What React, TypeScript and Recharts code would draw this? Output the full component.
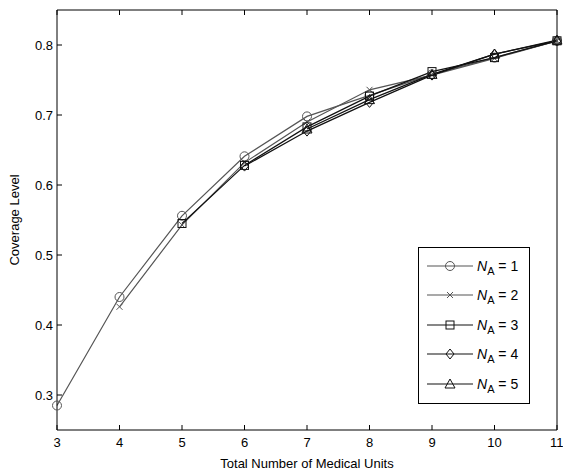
import React from 'react';
import {
  LineChart,
  Line,
  XAxis,
  YAxis
} from 'recharts';

const units = [3, 4, 5, 6, 7, 8, 9, 10, 11];
const yTicks = [0.3, 0.4, 0.5, 0.6, 0.7, 0.8];

// coverage per N_A, null where the curve has no point
const na1 = [0.285, 0.44, 0.556, 0.641, 0.698, 0.728, 0.758, 0.782, 0.806];
const na2 = [null, 0.426, 0.543, 0.632, 0.69, 0.736, 0.757, 0.781, 0.806];
const na3 = [null, null, 0.545, 0.628, 0.683, 0.727, 0.762, 0.782, 0.806];
const na4 = [null, null, null, 0.627, 0.677, 0.718, 0.757, 0.787, 0.806];
const na5 = [null, null, null, null, 0.68, 0.722, 0.758, 0.787, 0.807];

const data = units.map((u, i) => ({
  units: u,
  na1: na1[i],
  na2: na2[i],
  na3: na3[i],
  na4: na4[i],
  na5: na5[i]
}));

const series = [
  { key: 'na1', label: '1', shape: 'circle', color: '#555' },
  { key: 'na2', label: '2', shape: 'cross', color: '#555' },
  { key: 'na3', label: '3', shape: 'square', color: '#111' },
  { key: 'na4', label: '4', shape: 'diamond', color: '#111' },
  { key: 'na5', label: '5', shape: 'triangle', color: '#111' }
];

const font = '"Liberation Sans", Arial, sans-serif';

const Marker = ({ cx, cy, shape, color }: any) => {
  const s = { fill: 'none', stroke: color, strokeWidth: 1 };
  if (shape === 'circle') return <circle cx={cx} cy={cy} r={4.5} {...s} />;
  if (shape === 'cross')
    return (
      <path d={`M${cx - 3},${cy - 3}L${cx + 3},${cy + 3}M${cx - 3},${cy + 3}L${cx + 3},${cy - 3}`} {...s} />
    );
  if (shape === 'square') return <rect x={cx - 4} y={cy - 4} width={8} height={8} {...s} />;
  if (shape === 'diamond')
    return <path d={`M${cx},${cy - 5}L${cx + 4},${cy}L${cx},${cy + 5}L${cx - 4},${cy}Z`} {...s} />;
  return <path d={`M${cx},${cy - 5}L${cx + 5},${cy + 4}L${cx - 5},${cy + 4}Z`} {...s} />;
};

const LegendBox = () => (
  <div
    style={{
      position: 'absolute',
      left: 418,
      top: 247,
      border: '1px solid #000',
      background: '#fff',
      width: 112,
      padding: '3px 0',
      fontFamily: font,
      fontSize: 14,
      boxSizing: 'border-box',
      height: 157
    }}
  >
    {series.map((s) => (
      <div key={s.key} style={{ display: 'flex', alignItems: 'center', height: 29.5 }}>
        <svg width={58} height={20}>
          <line x1={8} y1={10} x2={54} y2={10} stroke={s.color} strokeWidth={1.2} />
          <Marker cx={31} cy={10} shape={s.shape} color={s.color} />
        </svg>
        <span>
          <i>N</i>
          <sub style={{ fontSize: 11, lineHeight: 0 }}>A</sub> = {s.label}
        </span>
      </div>
    ))}
  </div>
);

const App = () => {
  const tickStyle = { fill: '#000', fontSize: 13, fontFamily: font };
  return (
    <div style={{ position: 'absolute', left: 0, top: 0, width: 563, height: 472 }}>
      <LineChart
        width={563}
        height={472}
        data={data}
        margin={{ top: 9, right: 5, bottom: 0, left: 17 }}
      >
        <XAxis
          dataKey="units"
          type="number"
          domain={[3, 11]}
          ticks={units}
          tickSize={-5}
          tickMargin={13}
          height={42}
          axisLine={{ stroke: '#000' }}
          tickLine={{ stroke: '#000' }}
          tick={tickStyle}
          label={{
            value: 'Total Number of Medical Units',
            position: 'insideBottom',
            offset: 4,
            style: { fill: '#000', fontSize: 13, fontFamily: font }
          }}
        />
        <XAxis
          xAxisId="top"
          orientation="top"
          dataKey="units"
          type="number"
          domain={[3, 11]}
          ticks={units}
          tickSize={-5}
          height={1}
          tickFormatter={() => ''}
          axisLine={{ stroke: '#000' }}
          tickLine={{ stroke: '#000' }}
        />
        <YAxis
          type="number"
          domain={[0.25, 0.85]}
          ticks={yTicks}
          tickSize={-5}
          tickMargin={9}
          width={40}
          allowDataOverflow
          axisLine={{ stroke: '#000' }}
          tickLine={{ stroke: '#000' }}
          tick={tickStyle}
          label={{
            value: 'Coverage Level',
            angle: -90,
            position: 'insideLeft',
            offset: -3,
            style: { fill: '#000', fontSize: 13, fontFamily: font, textAnchor: 'middle' }
          }}
        />
        <YAxis
          yAxisId="right"
          orientation="right"
          type="number"
          domain={[0.25, 0.85]}
          ticks={yTicks}
          tickSize={-5}
          width={1}
          tickFormatter={() => ''}
          axisLine={{ stroke: '#000' }}
          tickLine={{ stroke: '#000' }}
        />
        {series.map((s) => (
          <Line
            key={s.key}
            dataKey={s.key}
            type="linear"
            stroke={s.color}
            strokeWidth={1.2}
            connectNulls={false}
            isAnimationActive={false}
            dot={(p: any) =>
              p.cy == null || p.value == null ? (
                <g key={`${s.key}-${p.index}`} />
              ) : (
                <Marker key={`${s.key}-${p.index}`} cx={p.cx} cy={p.cy} shape={s.shape} color={s.color} />
              )
            }
            activeDot={false}
          />
        ))}
      </LineChart>
      <LegendBox />
    </div>
  );
};

export default App;
